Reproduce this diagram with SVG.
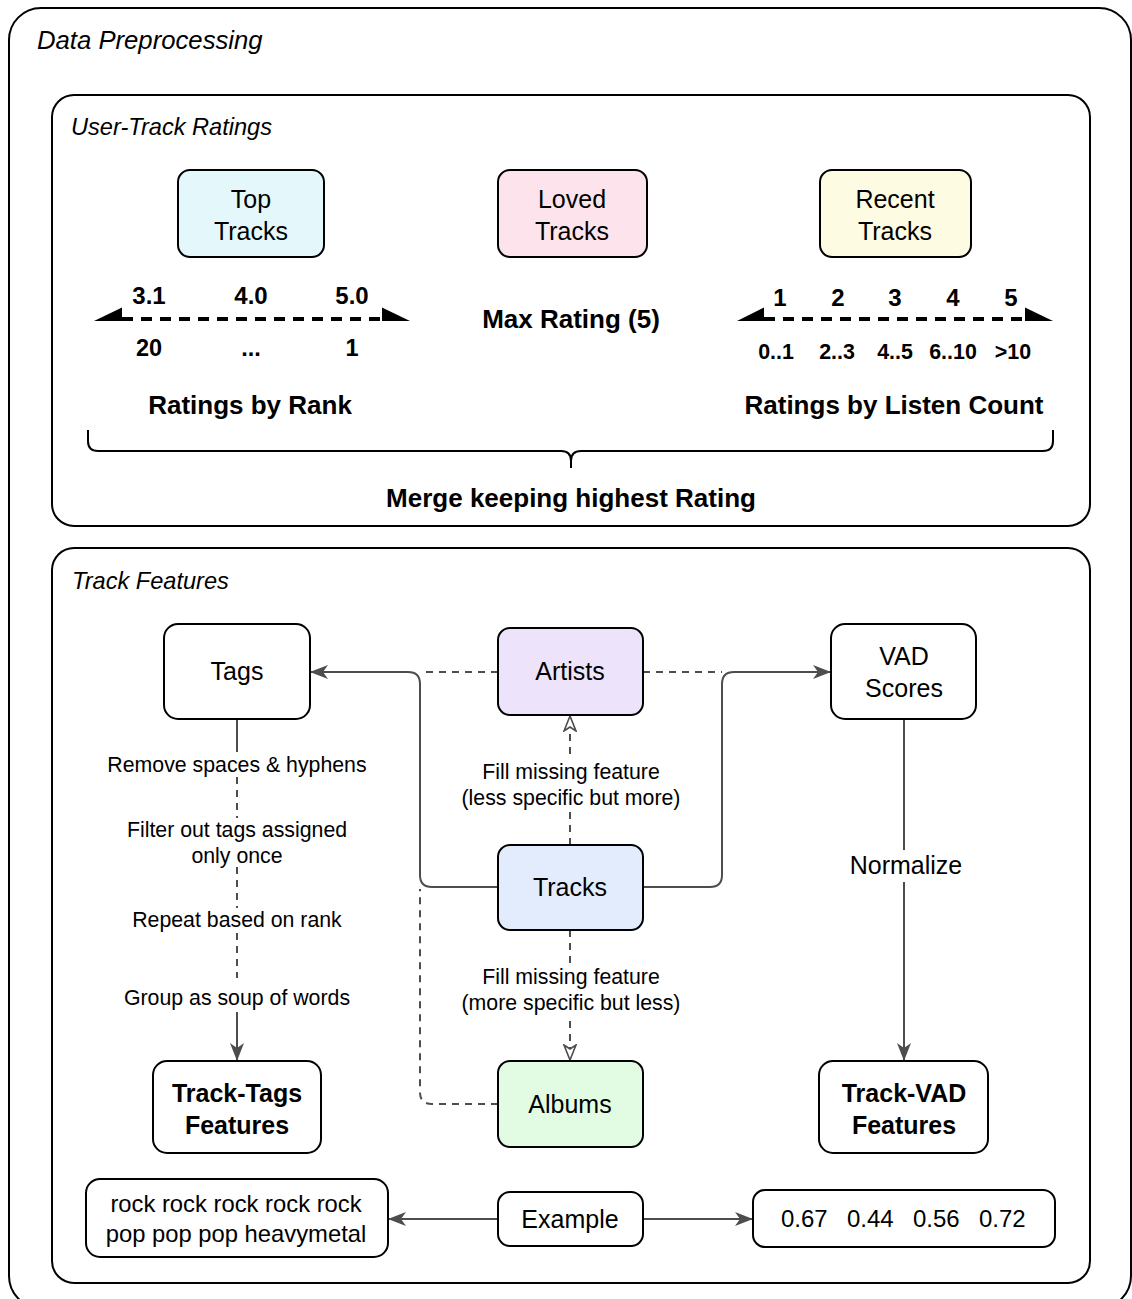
<svg xmlns="http://www.w3.org/2000/svg" width="1132" height="1299" viewBox="0 0 1132 1299">
<defs>
<style>
text{font-family:"Liberation Sans",Arial,sans-serif;fill:#000}
.t{font-size:25px;text-anchor:middle}
.b{font-size:26px;font-weight:bold;text-anchor:middle}
.lbl{font-size:21.3px;text-anchor:middle}
.it{font-style:italic}
.box{stroke:#000;stroke-width:2}
.frame{fill:#fff;stroke:#000;stroke-width:2}
.c{fill:none;stroke:#4d4d4d;stroke-width:2}
.d{fill:none;stroke:#4d4d4d;stroke-width:2;stroke-dasharray:7 6}
.sc{fill:none;stroke:#000;stroke-width:4;stroke-dasharray:11 8}
.lb{fill:#fff;stroke:none}
</style>
<marker id="arr" viewBox="0 0 18 14" refX="17" refY="7" markerWidth="18" markerHeight="14" markerUnits="userSpaceOnUse" orient="auto">
<path d="M0,0 L18,7 L0,14 L5,7 Z" fill="#4d4d4d"/>
</marker>
<marker id="open" viewBox="0 0 17 14" refX="16" refY="7" markerWidth="17" markerHeight="14" markerUnits="userSpaceOnUse" orient="auto">
<path d="M1,1 L16,7 L1,13 L5,7 Z" fill="#fff" stroke="#4d4d4d" stroke-width="1.6"/>
</marker>
</defs>
<rect width="1132" height="1299" fill="#fff"/>
<g id="data-preprocessing">
<rect class="frame" x="9" y="8" width="1122" height="1300" rx="32"/>
<text class="it" x="37" y="49" style="font-size:25.7px">Data Preprocessing</text>
</g>
<g id="user-track-ratings">
<rect class="frame" x="52" y="95" width="1038" height="431" rx="22"/>
<text class="it" x="71" y="135" style="font-size:23.6px">User-Track Ratings</text>
</g>
<g id="track-features">
<rect class="frame" x="52" y="548" width="1038" height="735" rx="22"/>
<text class="it" x="72" y="589" style="font-size:23.6px">Track Features</text>
</g>
<g id="top-tracks">
<rect class="box" x="178" y="170" width="146" height="87" rx="12" fill="#e4f8fc"/>
<text class="t" x="251" y="208">Top</text>
<text class="t" x="251" y="240">Tracks</text>
</g>
<g id="loved-tracks">
<rect class="box" x="498" y="170" width="149" height="87" rx="12" fill="#fde4ec"/>
<text class="t" x="572" y="208">Loved</text>
<text class="t" x="572" y="240">Tracks</text>
</g>
<g id="recent-tracks">
<rect class="box" x="820" y="170" width="151" height="87" rx="12" fill="#fdfbe1"/>
<text class="t" x="895" y="208">Recent</text>
<text class="t" x="895" y="240">Tracks</text>
</g>
<g id="rank-scale">
<line class="sc" x1="122" y1="319" x2="382" y2="319"/>
<polygon points="94,321 122,307.5 122,321"/>
<polygon points="410,321 382,307.5 382,321"/>
<text class="b" x="149" y="304" style="font-size:24px">3.1</text>
<text class="b" x="251" y="304" style="font-size:24px">4.0</text>
<text class="b" x="352" y="304" style="font-size:24px">5.0</text>
<text class="b" x="149" y="356" style="font-size:23.5px">20</text>
<text class="b" x="251" y="356" style="font-size:23.5px">...</text>
<text class="b" x="352" y="356" style="font-size:23.5px">1</text>
<text class="b" x="250" y="414">Ratings by Rank</text>
</g>
<g id="max-rating">
<text class="b" x="571" y="328">Max Rating (5)</text>
</g>
<g id="listen-scale">
<line class="sc" x1="764" y1="319" x2="1025" y2="319"/>
<polygon points="737,321 764,307.5 764,321"/>
<polygon points="1053,321 1025,307.5 1025,321"/>
<text class="b" x="780" y="306" style="font-size:24px">1</text>
<text class="b" x="838" y="306" style="font-size:24px">2</text>
<text class="b" x="895" y="306" style="font-size:24px">3</text>
<text class="b" x="953" y="306" style="font-size:24px">4</text>
<text class="b" x="1011" y="306" style="font-size:24px">5</text>
<text class="b" x="776" y="359" style="font-size:21.4px">0..1</text>
<text class="b" x="837" y="359" style="font-size:21.4px">2..3</text>
<text class="b" x="895" y="359" style="font-size:21.4px">4..5</text>
<text class="b" x="953" y="359" style="font-size:21.4px">6..10</text>
<text class="b" x="1013" y="359" style="font-size:21.4px">&gt;10</text>
<text class="b" x="894" y="414">Ratings by Listen Count</text>
</g>
<g id="merge">
<path d="M88,430 L88,441 Q88,451 98,451 L561,451 Q571,451 571,461 L571,468 M571,461 Q571,451 581,451 L1043,451 Q1053,451 1053,441 L1053,430" fill="none" stroke="#000" stroke-width="2"/>
<text class="b" x="571" y="507">Merge keeping highest Rating</text>
</g>
<g id="connectors">
<path class="d" d="M498,672 L420,672"/>
<path class="d" d="M643,672 L722,672"/>
<path class="c" d="M498,887 L432,887 Q420,887 420,875 L420,684 Q420,672 408,672 L311,672" marker-end="url(#arr)"/>
<path class="c" d="M643,887 L710,887 Q722,887 722,875 L722,684 Q722,672 734,672 L830,672" marker-end="url(#arr)"/>
<path class="d" d="M498,1104 L432,1104 Q420,1104 420,1092 L420,889"/>
<path class="d" d="M570,845 L570,716" marker-end="url(#open)"/>
<rect class="lb" x="456" y="760" width="230" height="52"/>
<text class="lbl" x="571" y="779">Fill missing feature</text>
<text class="lbl" x="571" y="805">(less specific but more)</text>
<path class="d" d="M570,930 L570,1060" marker-end="url(#open)"/>
<rect class="lb" x="456" y="965" width="230" height="52"/>
<text class="lbl" x="571" y="984">Fill missing feature</text>
<text class="lbl" x="571" y="1010">(more specific but less)</text>
<path class="c" d="M237,719 L237,752"/>
<path class="d" d="M237,777 L237,818 M237,867 L237,908 M237,933 L237,978"/>
<path class="c" d="M237,1012 L237,1060" marker-end="url(#arr)"/>
<text class="lbl" x="237" y="772">Remove spaces &amp; hyphens</text>
<text class="lbl" x="237" y="837">Filter out tags assigned</text>
<text class="lbl" x="237" y="863">only once</text>
<text class="lbl" x="237" y="927">Repeat based on rank</text>
<text class="lbl" x="237" y="1005">Group as soup of words</text>
<path class="c" d="M904,719 L904,1060" marker-end="url(#arr)"/>
<rect class="lb" x="846" y="850" width="120" height="32"/>
<text class="t" x="906" y="874">Normalize</text>
<path class="c" d="M498,1219 L389,1219" marker-end="url(#arr)"/>
<path class="c" d="M643,1219 L752,1219" marker-end="url(#arr)"/>
</g>
<g id="tags">
<rect class="box" x="164" y="624" width="146" height="95" rx="14" fill="#fff"/>
<text class="t" x="237" y="680">Tags</text>
</g>
<g id="artists">
<rect class="box" x="498" y="628" width="145" height="87" rx="12" fill="#ede4fc"/>
<text class="t" x="570" y="680">Artists</text>
</g>
<g id="vad-scores">
<rect class="box" x="831" y="624" width="145" height="95" rx="14" fill="#fff"/>
<text class="t" x="904" y="665">VAD</text>
<text class="t" x="904" y="697">Scores</text>
</g>
<g id="tracks">
<rect class="box" x="498" y="845" width="145" height="85" rx="12" fill="#e3ecfc"/>
<text class="t" x="570" y="896">Tracks</text>
</g>
<g id="albums">
<rect class="box" x="498" y="1061" width="145" height="86" rx="12" fill="#e2fce4"/>
<text class="t" x="570" y="1113">Albums</text>
</g>
<g id="track-tags-features">
<rect class="box" x="153" y="1061" width="168" height="92" rx="14" fill="#fff"/>
<text class="b" x="237" y="1102" style="font-size:25px">Track-Tags</text>
<text class="b" x="237" y="1134" style="font-size:25px">Features</text>
</g>
<g id="track-vad-features">
<rect class="box" x="819" y="1061" width="169" height="92" rx="14" fill="#fff"/>
<text class="b" x="904" y="1102" style="font-size:25px">Track-VAD</text>
<text class="b" x="904" y="1134" style="font-size:25px">Features</text>
</g>
<g id="tags-example">
<rect class="box" x="86" y="1179" width="302" height="78" rx="14" fill="#fff"/>
<text class="t" x="236" y="1212" style="font-size:23.8px">rock rock rock rock rock</text>
<text class="t" x="236" y="1242" style="font-size:23.8px">pop pop pop heavymetal</text>
</g>
<g id="example">
<rect class="box" x="498" y="1192" width="145" height="54" rx="12" fill="#fff"/>
<text class="t" x="570" y="1228">Example</text>
</g>
<g id="vad-example">
<rect class="box" x="753" y="1190" width="302" height="57" rx="12" fill="#fff"/>
<text x="781" y="1227" style="font-size:24px">0.67</text>
<text x="847" y="1227" style="font-size:24px">0.44</text>
<text x="913" y="1227" style="font-size:24px">0.56</text>
<text x="979" y="1227" style="font-size:24px">0.72</text>
</g>
</svg>
